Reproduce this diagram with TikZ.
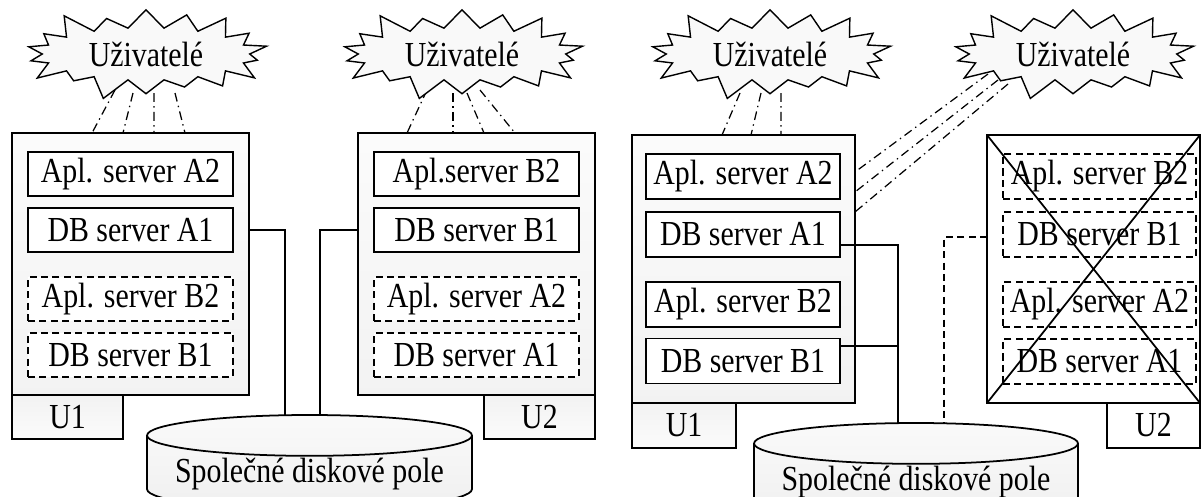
\documentclass[tikz,border=0pt]{standalone}
\usepackage{fontspec}
\setmainfont{Liberation Serif}[FakeStretch=0.85]
\usetikzlibrary{positioning,shapes.symbols,shapes.geometric,backgrounds}

\tikzset{
  usr/.style={starburst, starburst points=18, starburst point height=0.5cm,
    draw, line width=0.8pt, fill=gray!5, minimum width=5.15cm, minimum height=2.05cm, inner sep=0pt},
  host/.style={draw, line width=1pt, outer sep=0pt, top color=gray!3, bottom color=gray!10},
  deadhost/.style={draw, line width=1pt, outer sep=0pt, fill=white},
  srv/.style={draw, line width=1pt, outer sep=0pt, fill=white},
  spare/.style={srv, dash pattern=on 4pt off 2.5pt},
  tab/.style={draw, line width=1pt, outer sep=0pt, top color=gray!10, bottom color=gray!3},
  disk/.style={cylinder, shape border rotate=90, draw, line width=1pt, outer sep=0pt, aspect=0.15,
    inner sep=1pt, anchor=north, top color=gray!4, bottom color=gray!12, minimum width=6.5cm, minimum height=1.4cm},
  link/.style={line width=0.8pt},
  ddot/.style={line width=0.7pt, dash pattern=on 5pt off 2.5pt on 0.8pt off 2.5pt},
}

\begin{document}
\begin{tikzpicture}[x=0.02cm, y=-0.02cm, font=\fontsize{20}{22}\selectfont]
  \useasboundingbox (0,0) rectangle (1201,497);

  % left: both nodes in service
  \node[usr] (usrL1) at (146,54) {Uživatelé};
  \node[usr] (usrL2) at (462,54) {Uživatelé};

  \node[host, minimum width=4.74cm, minimum height=5.24cm] (hostL1) at (130.5,264) {};
  \node[srv, minimum width=4.1cm, minimum height=0.88cm] (aplL1a) at (130.5,174) {Apl. server A2};
  \node[srv, minimum width=4.1cm, minimum height=0.88cm] (dbL1a) at (130.5,230) {DB server A1};
  \node[spare, minimum width=4.1cm, minimum height=0.88cm] (aplL1b) at (130.5,299) {Apl. server B2};
  \node[spare, minimum width=4.1cm, minimum height=0.88cm] (dbL1b) at (130.5,355) {DB server B1};
  \node[tab, minimum width=2.22cm, minimum height=0.88cm, below right=0pt and 0pt of hostL1.south west] (tabL1) {U1};

  \node[host, minimum width=4.74cm, minimum height=5.24cm] (hostL2) at (476.5,264) {};
  \node[srv, minimum width=4.1cm, minimum height=0.88cm] (aplL2a) at (476.5,174) {Apl.server B2};
  \node[srv, minimum width=4.1cm, minimum height=0.88cm] (dbL2a) at (476.5,230) {DB server B1};
  \node[spare, minimum width=4.1cm, minimum height=0.88cm] (aplL2b) at (476.5,299) {Apl. server A2};
  \node[spare, minimum width=4.1cm, minimum height=0.88cm] (dbL2b) at (476.5,355) {DB server A1};
  \node[tab, minimum width=2.22cm, minimum height=0.88cm, below left=0pt and 0pt of hostL2.south east] (tabL2) {U2};

  \node[disk] (diskL) at (309.5,415) {Společné diskové pole};

  \draw[link] (hostL1.east |- dbL1a) -| ([xshift=-0.49cm]diskL.north);
  \draw[link] (hostL2.west |- dbL2a) -| ([xshift=0.21cm]diskL.north);

  \begin{scope}[on background layer]
    \draw[ddot] ([shift={(-31,36)}]usrL1.center) -- ([shift={(-38.5,0)}]hostL1.north);
    \draw[ddot] ([shift={(-13,39)}]usrL1.center) -- ([shift={(-7.5,0)}]hostL1.north);
    \draw[ddot] ([shift={(8,39)}]usrL1.center) -- ([shift={(23.5,0)}]hostL1.north);
    \draw[ddot] ([shift={(29,39)}]usrL1.center) -- ([shift={(54.5,0)}]hostL1.north);
    \draw[ddot] ([shift={(-35,36)}]usrL2.center) -- ([shift={(-69.5,0)}]hostL2.north);
    \draw[ddot] ([shift={(-9,39)}]usrL2.center) -- ([shift={(-23.5,0)}]hostL2.north);
    \draw[ddot] ([shift={(5,39)}]usrL2.center) -- ([shift={(7.5,0)}]hostL2.north);
    \draw[ddot] ([shift={(18,36)}]usrL2.center) -- ([shift={(38.5,0)}]hostL2.north);
  \end{scope}

  % right: U2 down, U1 takes over
  \node[usr] (usrR1) at (770,54) {Uživatelé};
  \node[usr] (usrR2) at (1073,54) {Uživatelé};

  \node[host, minimum width=4.46cm, minimum height=5.36cm] (hostR1) at (743.5,269) {};
  \node[srv, minimum width=3.88cm, minimum height=0.9cm] (aplR1a) at (743,176.5) {Apl. server A2};
  \node[srv, minimum width=3.88cm, minimum height=0.9cm] (dbR1a) at (743,234.5) {DB server A1};
  \node[srv, minimum width=3.88cm, minimum height=0.9cm] (aplR1b) at (743,304.5) {Apl. server B2};
  \node[srv, minimum width=3.88cm, minimum height=0.9cm] (dbR1b) at (743,361) {DB server B1};
  \node[tab, minimum width=2.08cm, minimum height=0.9cm, below right=0pt and 0pt of hostR1.south west] (tabR1) {U1};

  \node[deadhost, minimum width=4.26cm, minimum height=5.36cm] (hostR2) at (1093.5,269) {};
  \node[spare, fill=none, minimum width=3.86cm, minimum height=0.9cm] (aplR2a) at (1099.5,176.5) {Apl. server B2};
  \node[spare, fill=none, minimum width=3.86cm, minimum height=0.9cm] (dbR2a) at (1099.5,234.5) {DB server B1};
  \node[spare, fill=none, minimum width=3.86cm, minimum height=0.9cm] (aplR2b) at (1099.5,304.5) {Apl. server A2};
  \node[spare, fill=none, minimum width=3.86cm, minimum height=0.9cm] (dbR2b) at (1099.5,361.5) {DB server A1};
  \node[tab, fill=white, top color=white, bottom color=white, minimum width=1.86cm, minimum height=0.9cm, below left=0pt and 0pt of hostR2.south east] (tabR2) {U2};
  \draw[line width=1pt] (hostR2.north west) -- (hostR2.south east)
    (hostR2.south west) -- (hostR2.north east);

  \node[disk, minimum width=6.48cm] (diskR) at (916,423) {Společné diskové pole};
  \coordinate (busR) at ([xshift=-0.36cm]diskR.north);

  \draw[link] ([yshift=-0.21cm]dbR1a.east) -| (busR);
  \draw[link] ([yshift=0.3cm]dbR1b.east) coordinate (p) -- (p -| busR);
  \draw[link, dash pattern=on 4pt off 2.5pt] ([yshift=0.64cm]hostR2.west) -| ([xshift=0.56cm]diskR.north);

  \begin{scope}[on background layer]
    \draw[ddot] ([shift={(-30,39)}]usrR1.center) -- ([shift={(-21.5,0)}]hostR1.north);
    \draw[ddot] ([shift={(-9,39)}]usrR1.center) -- ([shift={(7.5,0)}]hostR1.north);
    \draw[ddot] ([shift={(11,39)}]usrR1.center) -- ([shift={(37.5,0)}]hostR1.north);
    \draw[ddot] ([shift={(-85,20)}]usrR2.center) -- ([shift={(0,-97)}]hostR1.east);
    \draw[ddot] ([shift={(-75,26)}]usrR2.center) -- ([shift={(0,-77)}]hostR1.east);
    \draw[ddot] ([shift={(-65,30)}]usrR2.center) -- ([shift={(0,-57)}]hostR1.east);
  \end{scope}
\end{tikzpicture}
\end{document}
